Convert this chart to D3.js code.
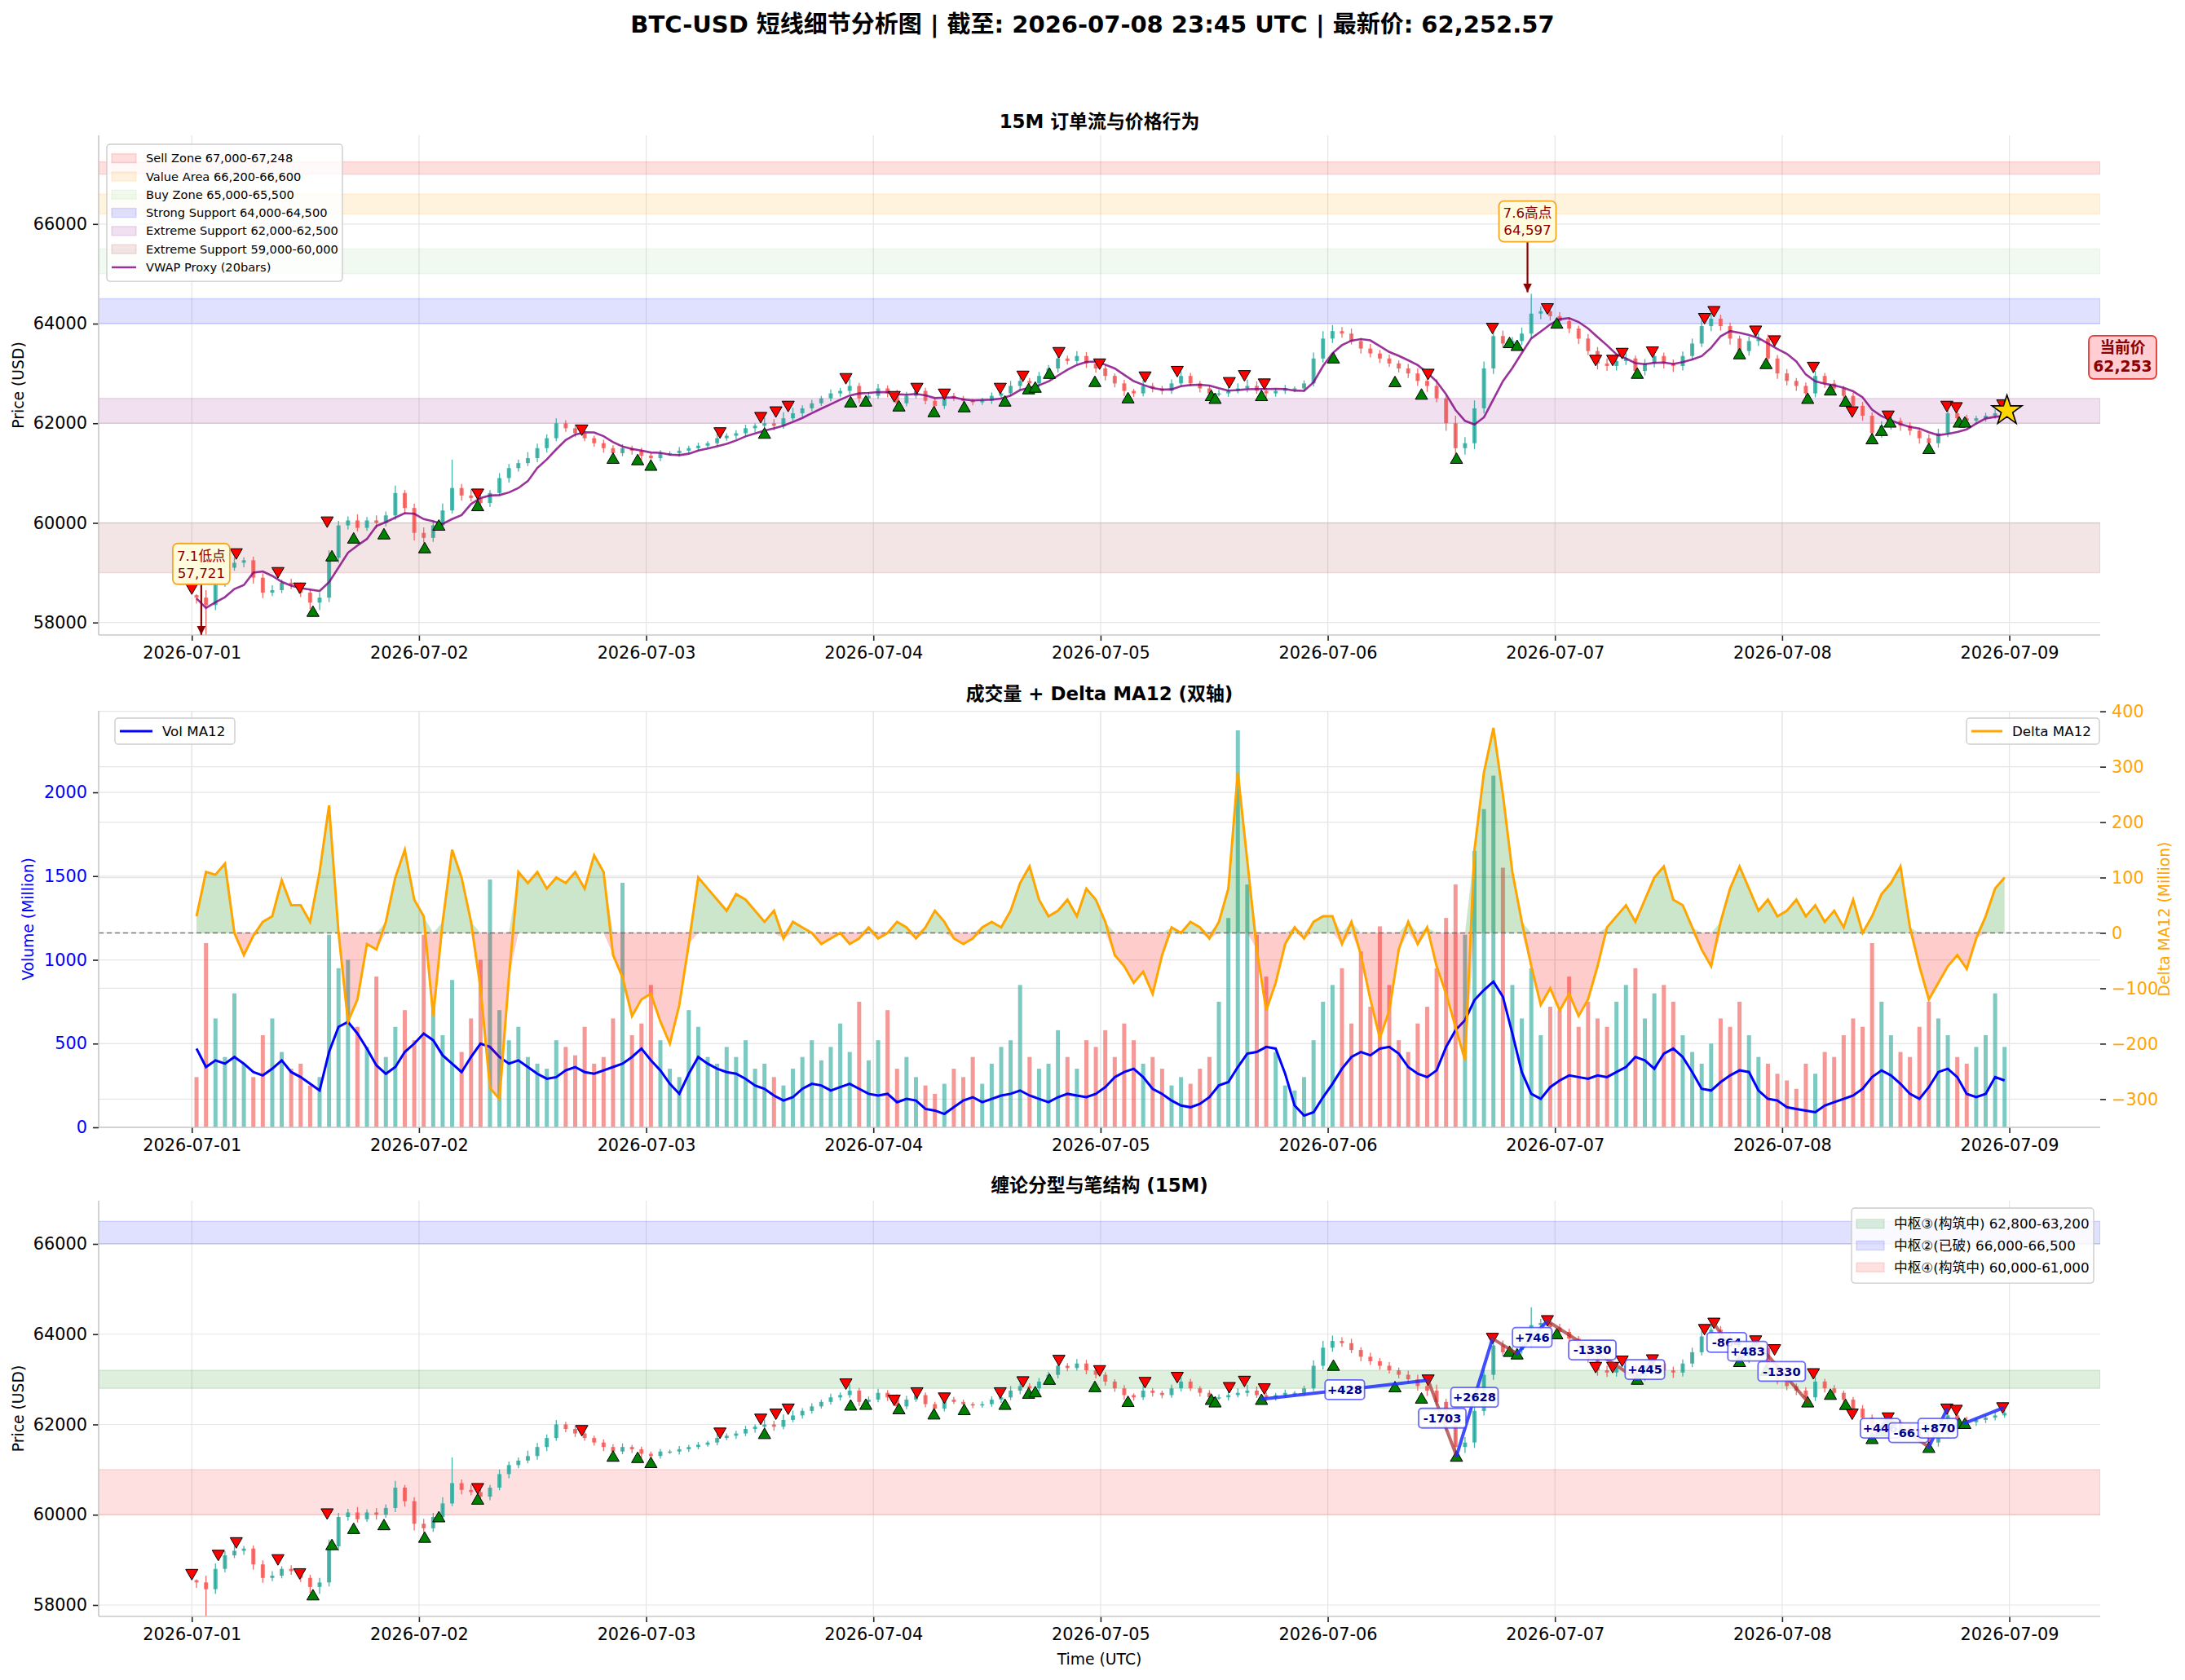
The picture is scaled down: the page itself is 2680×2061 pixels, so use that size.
<!DOCTYPE html>
<html>
<head>
<meta charset="utf-8">
<script src="https://cdn.jsdelivr.net/npm/d3@7"></script>
<style>
  body { margin: 0; background: #fff; }
  text { font-family: "DejaVu Sans", "Noto Sans CJK SC", sans-serif; }
</style>
</head>
<body>
<div id="chart"></div>
<script>
// ---------- data (one value per hour) ----------
const symbol = "BTC-USD";
const lastTimeLabel = "2026-07-08 23:45";
const lastPrice = 62252.57;
const startUTC = Date.UTC(2026, 6, 1);   // 2026-07-01 00:00 UTC
const firstOpen = 58550;

let closes = [
  58500, 58350, 58800, 59100, 59200, 59250, 58900, 58600, 58650, 58800, 58750, 58600, 58400, 58500, 59300, 59950, 60050, 59900, 60050, 60000, 60150, 60600, 60300, 59800,
  59700, 59950, 60250, 60700, 60550, 60500, 60400, 60600, 60900, 61100, 61200, 61300, 61500, 61700, 62000, 61900, 61800, 61700, 61600, 61500, 61400, 61500, 61450, 61350,
  61300, 61400, 61400, 61450, 61500, 61550, 61600, 61700, 61750, 61800, 61900, 61950, 62000, 61950, 62100, 62200, 62300, 62400, 62500, 62600, 62650, 62750, 62500, 62550,
  62700, 62600, 62400, 62550, 62650, 62450, 62350, 62550, 62500, 62450, 62420, 62450, 62550, 62600, 62750, 62850, 62800, 62950, 63100, 63300, 63250, 63350, 63200, 63100,
  62950, 62800, 62650, 62600, 62750, 62700, 62650, 62800, 62950, 62800, 62700, 62600, 62600, 62650, 62700, 62750, 62650, 62600, 62650, 62700, 62700, 62800, 63300, 63700,
  63850, 63800, 63650, 63500, 63400, 63300, 63200, 63100, 63000, 62850, 62750, 62500, 62000, 61500, 61600, 62300, 63100, 63750, 63600, 63650, 63800, 64200, 64250, 64150,
  64050, 63900, 63700, 63450, 63200, 63150, 63250, 63300, 63050, 63200, 63350, 63200, 63150, 63350, 63600, 63950, 64100, 63950, 63700, 63450, 63650, 63700, 63300, 63000,
  62850, 62750, 62600, 62950, 62800, 62700, 62550, 62350, 62150, 61800, 61950, 62050, 61950, 61850, 61700, 61600, 61800, 62200, 62100, 62050, 62100, 62150, 62200, 62252.57
];
// wick length above / below the candle body (USD)
let wickHi = [
  20, 150, 120, 90, 110, 60, 70, 90, 100, 60, 80, 50, 70, 100, 150, 90, 80, 120, 70, 100, 80, 150, 60, 90,
  110, 90, 140, 570, 80, 120, 90, 60, 100, 80, 70, 120, 90, 80, 100, 60, 80, 100, 50, 70, 60, 80, 50, 60,
  50, 60, 40, 70, 50, 60, 40, 100, 50, 60, 70, 50, 110, 80, 120, 110, 60, 70, 50, 80, 60, 140, 60, 70,
  90, 60, 70, 80, 120, 60, 50, 90, 60, 50, 40, 60, 70, 90, 100, 70, 60, 80, 70, 120, 60, 100, 80, 90,
  60, 50, 70, 40, 120, 60, 50, 80, 90, 60, 50, 60, 70, 80, 100, 130, 90, 60, 50, 70, 40, 60, 120, 150,
  120, 80, 100, 60, 90, 70, 80, 60, 90, 100, 80, 130, 70, 150, 120, 160, 140, 150, 110, 80, 120, 397, 90, 100,
  80, 70, 60, 90, 80, 100, 70, 110, 60, 90, 100, 70, 80, 90, 100, 120, 110, 80, 70, 60, 90, 100, 80, 70,
  90, 60, 70, 100, 60, 70, 50, 60, 80, 70, 90, 100, 60, 70, 50, 80, 90, 110, 60, 70, 50, 60, 80, 60
];
let wickLo = [
  120, 629, 100, 80, 60, 90, 120, 110, 70, 60, 80, 90, 130, 150, 90, 100, 80, 70, 60, 110, 70, 90, 120, 150,
  100, 80, 90, 60, 100, 70, 110, 80, 60, 90, 70, 60, 80, 90, 60, 70, 80, 60, 70, 90, 100, 60, 80, 90,
  80, 60, 50, 70, 60, 50, 40, 60, 50, 70, 60, 80, 70, 90, 60, 50, 70, 60, 50, 60, 70, 60, 90, 70,
  60, 80, 90, 60, 50, 70, 90, 60, 50, 70, 60, 50, 60, 70, 60, 80, 90, 70, 60, 80, 70, 60, 90, 80,
  90, 80, 100, 70, 60, 80, 70, 60, 70, 60, 80, 90, 60, 70, 50, 80, 60, 90, 70, 60, 80, 70, 60, 80,
  90, 80, 70, 100, 80, 90, 70, 80, 90, 100, 120, 80, 150, 250, 130, 120, 100, 110, 90, 120, 80, 100, 110, 90,
  100, 90, 110, 80, 120, 100, 90, 80, 130, 90, 80, 100, 120, 90, 80, 70, 100, 90, 120, 80, 90, 100, 120, 110,
  90, 100, 120, 80, 90, 100, 110, 90, 100, 120, 90, 80, 100, 90, 110, 120, 90, 80, 70, 60, 80, 70, 60, 50
];
// volume (Million)
let volumes = [
  300, 1100, 650, 420, 800, 380, 300, 550, 650, 450, 350, 380, 250, 300, 1150, 950, 1000, 600, 480, 900, 420, 600, 700, 520,
  1150, 750, 550, 880, 450, 650, 1000, 1480, 700, 520, 600, 420, 380, 350, 520, 480, 430, 600, 380, 420, 650, 1460, 550, 620,
  850, 520, 350, 300, 700, 600, 420, 380, 480, 420, 520, 350, 380, 300, 250, 350, 420, 520, 400, 480, 620, 450, 750, 400,
  520, 700, 350, 420, 300, 250, 200, 260, 350, 300, 420, 260, 380, 480, 520, 850, 420, 350, 380, 580, 420, 350, 520, 480,
  580, 420, 620, 520, 380, 420, 350, 250, 300, 260, 350, 420, 750, 1250, 2370, 1450, 1150, 900, 450, 250, 220, 300, 520, 750,
  850, 950, 620, 1050, 720, 1200, 850, 520, 450, 620, 720, 950, 1250, 1450, 1150, 1650, 1900, 2100, 1550, 850, 650, 950, 550, 720,
  700, 900, 600, 750, 650, 600, 750, 850, 950, 650, 800, 850, 750, 550, 450, 380, 500, 650, 600, 750, 550, 420, 380, 320,
  280, 230, 380, 320, 450, 420, 550, 650, 600, 1100, 750, 550, 450, 420, 600, 750, 650, 550, 420, 380, 480, 550, 800, 480
];
let volMA12 = [
  470, 360, 400, 380, 420, 380, 330, 310, 350, 400, 330, 300, 260, 220, 450, 600, 630, 560, 470, 370, 320, 360, 450, 500,
  560, 520, 430, 380, 330, 420, 500, 480, 420, 380, 400, 360, 320, 290, 300, 340, 360, 330, 320, 340, 360, 380, 420, 470,
  400, 340, 260, 200, 320, 420, 380, 350, 330, 320, 290, 250, 230, 190, 160, 180, 230, 260, 250, 220, 240, 260, 230, 200,
  190, 200, 150, 170, 160, 110, 100, 80, 120, 160, 180, 150, 170, 190, 200, 220, 190, 170, 150, 180, 200, 190, 180, 200,
  240, 300, 330, 350, 300, 230, 200, 160, 130, 120, 140, 180, 250, 270, 360, 440, 450, 480, 470, 320, 130, 70, 90, 180,
  260, 350, 420, 450, 430, 470, 480, 440, 360, 320, 300, 340, 480, 580, 640, 760, 820, 870, 780, 560, 330, 200, 170, 240,
  280, 310, 300, 290, 310, 300, 330, 360, 420, 400, 350, 440, 470, 420, 330, 230, 220, 270, 310, 340, 330, 220, 170, 160,
  120, 110, 100, 90, 130, 150, 170, 190, 230, 300, 340, 310, 260, 200, 170, 240, 330, 350, 300, 200, 180, 200, 300, 280
];
let deltaMA12 = [
  30, 110, 105, 125, 0, -40, -5, 20, 30, 95, 50, 50, 20, 110, 230, 0, -160, -120, -20, -30, 20, 100, 150, 60,
  30, -150, 20, 150, 100, 20, -100, -280, -300, -80, 110, 90, 110, 80, 100, 90, 110, 80, 140, 110, -40, -80, -150, -120,
  -110, -160, -200, -130, -20, 100, 80, 60, 40, 70, 60, 40, 20, 40, -10, 20, 10, 0, -20, -10, 0, -20, -10, 10,
  -10, 0, 20, 10, -10, 10, 40, 20, -10, -20, -10, 10, 20, 10, 40, 90, 120, 60, 30, 40, 60, 30, 80, 60,
  20, -40, -60, -90, -70, -110, -40, 10, 0, 20, 10, -10, 20, 80, 290, 130, -30, -140, -90, -20, 10, -10, 20, 30,
  30, -20, 20, -40, -120, -190, -140, -30, 20, -20, 10, -60, -110, -170, -230, 150, 290, 370, 250, 110, 20, -60, -130, -100,
  -140, -110, -150, -120, -60, 10, 30, 50, 20, 60, 100, 120, 60, 50, 10, -30, -60, 20, 80, 120, 80, 40, 60, 30,
  40, 60, 30, 50, 20, 40, 10, 60, 0, 30, 70, 90, 120, 10, -60, -120, -90, -60, -40, -65, -10, 30, 80, 100
];

// fractal marks: [hours since 07-01 00:00 UTC, price]
let topFractals = [
  [0.0, 58671], [2.8, 59096], [4.7, 59375], [9.1, 58998], [11.4, 58687], [14.3, 60014], [30.2, 60574], [41.2, 61860],
  [55.8, 61804], [60.1, 62112], [61.7, 62224], [63.0, 62336], [69.1, 62892], [74.2, 62532], [76.6, 62696], [79.5, 62581],
  [85.4, 62696], [87.8, 62941], [91.6, 63415], [95.9, 63186], [100.7, 62925], [104.1, 63036], [109.6, 62812], [111.2, 62951],
  [113.3, 62784], [130.6, 62979], [137.4, 63902], [143.2, 64294], [148.3, 63259], [150.1, 63259], [151.1, 63399], [154.3, 63427],
  [159.8, 64098], [160.8, 64238], [165.2, 63846], [167.2, 63650], [171.3, 63119], [175.4, 62224], [179.2, 62140], [185.4, 62336],
  [186.4, 62308], [191.3, 62364]
];
let bottomFractals = [
  [12.8, 58229], [14.8, 59342], [17.1, 59700], [20.3, 59784], [24.6, 59505], [26.1, 59959], [30.2, 60350], [44.5, 61301],
  [47.1, 61273], [48.5, 61161], [60.5, 61804], [69.6, 62433], [71.2, 62450], [74.7, 62352], [78.4, 62237], [81.6, 62335],
  [85.9, 62450], [88.4, 62696], [89.1, 62728], [90.6, 63006], [95.4, 62843], [98.9, 62515], [107.7, 62560], [108.1, 62504],
  [113.0, 62560], [120.6, 63315], [127.1, 62839], [129.9, 62588], [133.6, 61301], [139.2, 63623], [140.0, 63567], [144.2, 64014],
  [152.7, 63007], [163.5, 63399], [166.3, 63203], [170.7, 62504], [173.1, 62672], [174.7, 62448], [177.5, 61693], [178.5, 61860],
  [179.4, 62028], [183.5, 61497], [186.7, 62028], [187.3, 62028]
];

// 笔 segments: [hour0, price0, hour1, price1] and their labels
let biSegments = [
  [113.0, 62560, 130.6, 62979], [130.6, 62979, 133.6, 61301], [133.6, 61301, 137.4, 63902], [137.4, 63902, 140.0, 63567],
  [140.0, 63567, 143.2, 64294], [143.2, 64294, 152.7, 63007], [152.7, 63007, 154.3, 63427], [160.8, 64238, 163.5, 63399],
  [163.5, 63399, 165.2, 63846], [165.2, 63846, 170.7, 62504], [177.5, 61693, 179.2, 62140], [179.2, 62140, 183.5, 61497],
  [183.5, 61497, 185.4, 62336], [187.3, 62028, 191.3, 62364]
];
let biLabels = ["+428", "-1703", "+2628", "", "+746", "-1330", "+445", "-864", "+483", "-1330", "+446", "-661", "+870", ""];

// price zones (panel 1)
let zoneNames = ["Sell Zone", "Value Area", "Buy Zone", "Strong Support", "Extreme Support", "Extreme Support"];
let zoneLow = [67000, 66200, 65000, 64000, 62000, 59000];
let zoneHigh = [67248, 66600, 65500, 64500, 62500, 60000];

// 中枢 zones (panel 3)
let pivotNames = ["中枢③(构筑中)", "中枢②(已破)", "中枢④(构筑中)"];
let pivotLow = [62800, 66000, 60000];
let pivotHigh = [63200, 66500, 61000];

// swing annotations: [hour, price]
let lowMark = [1.0, 57721], lowName = "7.1低点";
let highMark = [141.1, 64597], highName = "7.6高点";

// ---------- layout ----------
const W = 2680, H = 2061;
const L = 121, R = 2576;
const P1 = {top: 166, bottom: 779}, P2 = {top: 872, bottom: 1383}, P3 = {top: 1473, bottom: 1983};
const HOUR = 3600e3, DAY = 86400e3;
const upColor = "#26a69a", dnColor = "#ef5350";
const zoneFill = ["rgba(255,0,0,0.13)", "rgba(255,165,0,0.13)", "rgba(0,170,0,0.06)", "rgba(0,0,255,0.12)", "rgba(128,0,128,0.12)", "rgba(139,0,0,0.10)"];
const pivotFill = ["rgba(0,128,0,0.13)", "rgba(0,0,255,0.12)", "rgba(255,0,0,0.12)"];
const fmtK = d3.format(",");

const tAt = h => new Date(startUTC + h * HOUR);

let bars = closes.map((c, i) => {
	let o = i === 0 ? firstOpen : closes[i - 1];
	return {t: tAt(i + 0.5), o: o, c: c, h: Math.max(o, c) + wickHi[i], l: Math.min(o, c) - wickLo[i], v: volumes[i]};
});

// VWAP proxy over 20 x 15m bars = 5 hourly bars
let vwap = bars.map((b, i) => {
	let win = bars.slice(Math.max(0, i - 4), i + 1);
	let pv = d3.sum(win, d => (d.h + d.l + d.c) / 3 * d.v);
	return {t: b.t, v: pv / d3.sum(win, d => d.v)};
});

let svg = d3.select("#chart").append("svg")
	.attr("width", W).attr("height", H)
	.style("background", "#fff");

let defs = svg.append("defs");
[P1, P2, P3].forEach((p, i) => {
	defs.append("clipPath").attr("id", "clip" + i)
		.append("rect").attr("x", L).attr("y", p.top).attr("width", R - L).attr("height", p.bottom - p.top);
});
defs.append("marker").attr("id", "arrowDR")
	.attr("viewBox", "0 0 10 10").attr("refX", 10).attr("refY", 5)
	.attr("markerWidth", 11).attr("markerHeight", 11).attr("markerUnits", "userSpaceOnUse")
	.attr("orient", "auto")
	.append("path").attr("d", "M0,0L10,5L0,10z").attr("fill", "#8b0000");

let x = d3.scaleUtc()
	.domain([new Date(startUTC - 0.41 * DAY), new Date(startUTC + 8.40 * DAY)])
	.range([L, R]);
let dayTicks = d3.utcDay.range(new Date(startUTC), new Date(startUTC + 8 * DAY + 1));

let y1 = d3.scaleLinear().domain([57750, 67780]).range([P1.bottom, P1.top]);
let yVol = d3.scaleLinear().domain([0, 2487]).range([P2.bottom, P2.top]);
let yDelta = d3.scaleLinear().domain([-351, 401]).range([P2.bottom, P2.top]);
let y3 = d3.scaleLinear().domain([57747, 66957]).range([P3.bottom, P3.top]);

// ---------- helpers ----------
function grid(p, yScale, ticks) {
	let g = svg.append("g");
	g.selectAll(".vg").data(dayTicks).join("line")
		.attr("x1", d => x(d)).attr("x2", d => x(d)).attr("y1", p.top).attr("y2", p.bottom)
		.attr("stroke", "#e6e6e6").attr("stroke-width", 1.2);
	g.selectAll(".hg").data(ticks).join("line")
		.attr("x1", L).attr("x2", R).attr("y1", d => yScale(d)).attr("y2", d => yScale(d))
		.attr("stroke", "#e6e6e6").attr("stroke-width", 1.2);
}

function styleAxis(g, color, size) {
	g.select(".domain").remove();
	g.selectAll(".tick line").attr("stroke", "#222").attr("stroke-width", 1.6);
	g.selectAll(".tick text").attr("fill", color).attr("font-size", size)
		.attr("font-family", '"DejaVu Sans", "Noto Sans CJK SC", sans-serif');
}

function frame(p, yScale, ticks, tickColor) {
	let gx = svg.append("g").attr("transform", "translate(0," + p.bottom + ")")
		.call(d3.axisBottom(x).tickValues(dayTicks).tickFormat(d3.utcFormat("%Y-%m-%d")).tickSize(7).tickPadding(7));
	styleAxis(gx, "#000", 20.8);
	let gy = svg.append("g").attr("transform", "translate(" + L + ",0)")
		.call(d3.axisLeft(yScale).tickValues(ticks).tickFormat(d3.format("d")).tickSize(7).tickPadding(7));
	styleAxis(gy, tickColor || "#000", 20.8);
	svg.append("line").attr("x1", L).attr("x2", L).attr("y1", p.top).attr("y2", p.bottom)
		.attr("stroke", "#c8c8c8").attr("stroke-width", 1.6);
	svg.append("line").attr("x1", L).attr("x2", R).attr("y1", p.bottom).attr("y2", p.bottom)
		.attr("stroke", "#c8c8c8").attr("stroke-width", 1.6);
}

function title(text, cy) {
	svg.append("text").attr("x", (L + R) / 2).attr("y", cy).attr("dy", "0.35em")
		.attr("text-anchor", "middle").attr("font-size", 22.9).attr("font-weight", "bold").text(text);
}

function yLabel(text, cx, p, color) {
	svg.append("text").attr("transform", "translate(" + cx + "," + (p.top + p.bottom) / 2 + ") rotate(-90)")
		.attr("text-anchor", "middle").attr("dy", "0.35em").attr("font-size", 18.75)
		.attr("fill", color || "#000").text(text);
}

function zones(clipId, yScale, lows, highs, fills) {
	let g = svg.append("g").attr("clip-path", "url(#" + clipId + ")");
	g.selectAll("rect").data(lows).join("rect")
		.attr("x", L).attr("width", R - L)
		.attr("y", (d, i) => yScale(highs[i])).attr("height", (d, i) => yScale(d) - yScale(highs[i]))
		.attr("fill", (d, i) => fills[i]).attr("stroke", (d, i) => fills[i]).attr("stroke-width", 1.5);
}

function candles(clipId, yScale) {
	let g = svg.append("g").attr("clip-path", "url(#" + clipId + ")");
	g.selectAll("line").data(bars).join("line")
		.attr("x1", d => x(d.t)).attr("x2", d => x(d.t))
		.attr("y1", d => yScale(d.h)).attr("y2", d => yScale(d.l))
		.attr("stroke", d => d.c >= d.o ? upColor : dnColor).attr("stroke-width", 1.3).attr("opacity", 0.85);
	g.selectAll("rect").data(bars).join("rect")
		.attr("x", d => x(d.t) - 2.5).attr("width", 5)
		.attr("y", d => yScale(Math.max(d.o, d.c)))
		.attr("height", d => Math.max(1.5, Math.abs(yScale(d.o) - yScale(d.c))))
		.attr("fill", d => d.c >= d.o ? upColor : dnColor).attr("opacity", 0.8);
	return g;
}

function fractals(g, yScale) {
	g.selectAll(".top").data(topFractals).join("path").attr("class", "top")
		.attr("d", "M-7.5,-6.5L7.5,-6.5L0,6.5Z")
		.attr("transform", d => "translate(" + x(tAt(d[0])) + "," + yScale(d[1]) + ")")
		.attr("fill", "#ff0000").attr("stroke", "#000").attr("stroke-width", 1);
	g.selectAll(".bot").data(bottomFractals).join("path").attr("class", "bot")
		.attr("d", "M-7.5,6.5L7.5,6.5L0,-6.5Z")
		.attr("transform", d => "translate(" + x(tAt(d[0])) + "," + yScale(d[1]) + ")")
		.attr("fill", "#008000").attr("stroke", "#000").attr("stroke-width", 1);
}

function legend(items, x0, y0, w, rowH, fs, patchW) {
	let g = svg.append("g");
	g.append("rect").attr("x", x0).attr("y", y0).attr("width", w).attr("height", rowH * items.length + 12)
		.attr("rx", 4).attr("fill", "#fff").attr("fill-opacity", 0.8).attr("stroke", "#cccccc").attr("stroke-width", 1.4);
	items.forEach((it, i) => {
		let cy = y0 + 6 + rowH * (i + 0.5);
		if (it.kind === "patch") {
			g.append("rect").attr("x", x0 + 6).attr("y", cy - 5.5).attr("width", patchW).attr("height", 11)
				.attr("fill", it.color).attr("stroke", it.color).attr("stroke-width", 1.5);
		} else {
			g.append("line").attr("x1", x0 + 6).attr("x2", x0 + 6 + patchW).attr("y1", cy).attr("y2", cy)
				.attr("stroke", it.color).attr("stroke-width", it.width || 2.5);
		}
		g.append("text").attr("x", x0 + patchW + 18).attr("y", cy).attr("dy", "0.35em")
			.attr("font-size", fs).text(it.label);
	});
}

// ---------- figure title ----------
svg.append("text").attr("x", W / 2).attr("y", 30).attr("dy", "0.35em")
	.attr("text-anchor", "middle").attr("font-size", 29).attr("font-weight", "bold")
	.text(symbol + " 短线细节分析图 | 截至: " + lastTimeLabel + " UTC | 最新价: " + d3.format(",.2f")(lastPrice));

// ---------- panel 1: price ----------
let priceTicks = [58000, 60000, 62000, 64000, 66000];
grid(P1, y1, priceTicks);
zones("clip0", y1, zoneLow, zoneHigh, zoneFill);
let c1 = candles("clip0", y1);
c1.append("path").datum(vwap)
	.attr("d", d3.line().x(d => x(d.t)).y(d => y1(d.v)))
	.attr("fill", "none").attr("stroke", "#800080").attr("stroke-opacity", 0.8).attr("stroke-width", 2.6);
fractals(c1, y1);
frame(P1, y1, priceTicks);
title("15M 订单流与价格行为", 149);
yLabel("Price (USD)", 22, P1);

function swingNote(mark, name) {
	let px = x(tAt(mark[0])), py = y1(mark[1]);
	let by = py - 89;
	svg.append("line").attr("x1", px).attr("x2", px).attr("y1", by + 25).attr("y2", py - 2)
		.attr("stroke", "#8b0000").attr("stroke-width", 2.2).attr("marker-end", "url(#arrowDR)");
	svg.append("rect").attr("x", px - 35).attr("y", by - 25).attr("width", 70).attr("height", 50).attr("rx", 6)
		.attr("fill", "#fffbdd").attr("stroke", "#f5a623").attr("stroke-width", 1.8);
	svg.append("text").attr("x", px).attr("y", by - 10).attr("dy", "0.35em").attr("text-anchor", "middle")
		.attr("font-size", 16.7).attr("fill", "#8b0000").text(name);
	svg.append("text").attr("x", px).attr("y", by + 11).attr("dy", "0.35em").attr("text-anchor", "middle")
		.attr("font-size", 16.7).attr("fill", "#8b0000").text(fmtK(mark[1]));
}
swingNote(lowMark, lowName);
swingNote(highMark, highName);

// current price star + tag
let lastT = tAt(191.75);
svg.append("path").attr("d", d3.symbol().type(d3.symbolStar).size(420)())
	.attr("transform", "translate(" + x(lastT) + "," + y1(lastPrice) + ")")
	.attr("fill", "#ffd700").attr("stroke", "#000").attr("stroke-width", 1.6);
let tagY = y1(lastPrice) - 66;
svg.append("rect").attr("x", R - 14).attr("y", tagY - 26).attr("width", 83).attr("height", 53).attr("rx", 6)
	.attr("fill", "#ffcdd2").attr("stroke", "#e53935").attr("stroke-width", 1.8);
svg.append("text").attr("x", R + 27.5).attr("y", tagY - 11).attr("dy", "0.35em").attr("text-anchor", "middle")
	.attr("font-size", 18.75).attr("font-weight", "bold").attr("fill", "#8b0000").text("当前价");
svg.append("text").attr("x", R + 27.5).attr("y", tagY + 12).attr("dy", "0.35em").attr("text-anchor", "middle")
	.attr("font-size", 18.75).attr("font-weight", "bold").attr("fill", "#8b0000").text(fmtK(Math.round(lastPrice)));

legend(zoneNames.map((n, i) => ({kind: "patch", color: zoneFill[i], label: n + " " + fmtK(zoneLow[i]) + "-" + fmtK(zoneHigh[i])}))
	.concat([{kind: "line", color: "rgba(128,0,128,0.8)", label: "VWAP Proxy (20bars)"}]),
	131, 177, 289, 22.3, 14.6, 30);

// ---------- panel 2: volume + delta ----------
let volTicks = [0, 500, 1000, 1500, 2000];
let deltaTicks = [-300, -200, -100, 0, 100, 200, 300, 400];
grid(P2, yVol, volTicks);
grid(P2, yDelta, deltaTicks);
let g2 = svg.append("g").attr("clip-path", "url(#clip1)");
g2.selectAll("rect").data(bars).join("rect")
	.attr("x", d => x(d.t) - 2.5).attr("width", 5)
	.attr("y", d => yVol(d.v)).attr("height", d => yVol(0) - yVol(d.v))
	.attr("fill", d => d.c >= d.o ? upColor : dnColor).attr("opacity", 0.6);
g2.append("path").datum(volMA12)
	.attr("d", d3.line().x((d, i) => x(bars[i].t)).y(d => yVol(d)))
	.attr("fill", "none").attr("stroke", "#0000ff").attr("stroke-width", 3);
g2.append("line").attr("x1", L).attr("x2", R).attr("y1", yDelta(0)).attr("y2", yDelta(0))
	.attr("stroke", "#777").attr("stroke-width", 1.6).attr("stroke-dasharray", "6,4");
g2.append("path").datum(deltaMA12)
	.attr("d", d3.area().x((d, i) => x(bars[i].t)).y0(yDelta(0)).y1(d => yDelta(Math.max(0, d))))
	.attr("fill", "rgba(0,128,0,0.2)");
g2.append("path").datum(deltaMA12)
	.attr("d", d3.area().x((d, i) => x(bars[i].t)).y0(yDelta(0)).y1(d => yDelta(Math.min(0, d))))
	.attr("fill", "rgba(255,0,0,0.2)");
g2.append("path").datum(deltaMA12)
	.attr("d", d3.line().x((d, i) => x(bars[i].t)).y(d => yDelta(d)))
	.attr("fill", "none").attr("stroke", "#ffa500").attr("stroke-width", 3);
frame(P2, yVol, volTicks, "#0000ff");
let gr = svg.append("g").attr("transform", "translate(" + R + ",0)")
	.call(d3.axisRight(yDelta).tickValues(deltaTicks).tickFormat(d3.format("d")).tickSize(7).tickPadding(7));
styleAxis(gr, "#ffa500", 20.8);
title("成交量 + Delta MA12 (双轴)", 851);
yLabel("Volume (Million)", 34, P2, "#0000ff");
svg.append("text").attr("transform", "translate(2654," + (P2.top + P2.bottom) / 2 + ") rotate(-90)")
	.attr("text-anchor", "middle").attr("dy", "0.35em").attr("font-size", 18.75)
	.attr("fill", "#ffa500").text("Delta MA12 (Million)");
legend([{kind: "line", color: "#0000ff", label: "Vol MA12", width: 3}], 141, 881, 147, 20, 16.7, 40);
legend([{kind: "line", color: "#ffa500", label: "Delta MA12", width: 3}], 2412, 881, 163, 20, 16.7, 38);

// ---------- panel 3: fractals & strokes ----------
grid(P3, y3, priceTicks);
zones("clip2", y3, pivotLow, pivotHigh, pivotFill);
let c3 = candles("clip2", y3);
fractals(c3, y3);
c3.selectAll(".bi").data(biSegments).join("line").attr("class", "bi")
	.attr("x1", d => x(tAt(d[0]))).attr("y1", d => y3(d[1]))
	.attr("x2", d => x(tAt(d[2]))).attr("y2", d => y3(d[3]))
	.attr("stroke", d => d[3] > d[1] ? "#1f2fff" : "#a52a2a")
	.attr("stroke-opacity", d => d[3] > d[1] ? 0.85 : 0.7)
	.attr("stroke-width", 4).attr("stroke-linecap", "round");
biSegments.forEach((s, i) => {
	if (!biLabels[i]) return;
	let mx = x(tAt((s[0] + s[2]) / 2)), my = y3((s[1] + s[3]) / 2);
	let tw = biLabels[i].length * 9.6 + 10;
	c3.append("rect").attr("x", mx - tw / 2).attr("y", my - 12).attr("width", tw).attr("height", 24).attr("rx", 4)
		.attr("fill", "#fff").attr("fill-opacity", 0.9).attr("stroke", "#3a3aff").attr("stroke-opacity", 0.75).attr("stroke-width", 1.8);
	c3.append("text").attr("x", mx).attr("y", my).attr("dy", "0.35em").attr("text-anchor", "middle")
		.attr("font-size", 14.6).attr("font-weight", "bold").attr("fill", "#00008b").text(biLabels[i]);
});
frame(P3, y3, priceTicks);
title("缠论分型与笔结构 (15M)", 1454);
yLabel("Price (USD)", 22, P3);
svg.append("text").attr("x", (L + R) / 2).attr("y", 2035).attr("dy", "0.35em").attr("text-anchor", "middle")
	.attr("font-size", 18.75).text("Time (UTC)");
legend(pivotNames.map((n, i) => ({kind: "patch", color: pivotFill[i], label: n + " " + fmtK(pivotLow[i]) + "-" + fmtK(pivotHigh[i])})),
	2271, 1482, 297, 26.7, 16.7, 34);
</script>
</body>
</html>
